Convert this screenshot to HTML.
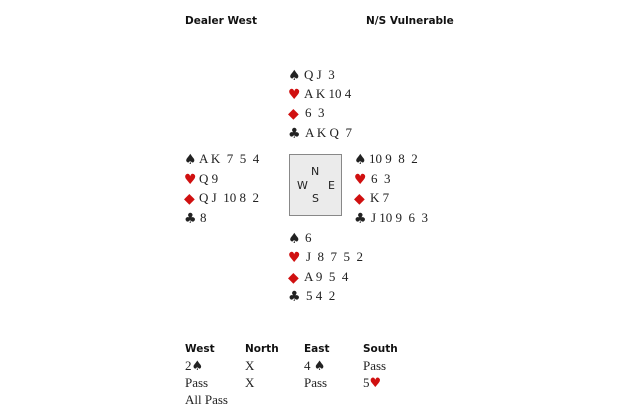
<!DOCTYPE html>
<html><head><meta charset="utf-8"><style>
body{margin:0;width:620px;height:413px;background:#fff;position:relative;overflow:hidden;font-family:"Liberation Serif",serif;color:#222}
.t{position:absolute;font-size:13px;line-height:16px;white-space:pre}
.s{position:absolute;font-family:"DejaVu Sans",sans-serif;font-size:14px;line-height:16px;margin-top:1px}
.r{color:#d01010}
.h{position:absolute;font-family:"DejaVu Sans","Liberation Sans",sans-serif;font-weight:bold;font-size:10.5px;line-height:14px;color:#111}
.box{position:absolute;left:289px;top:154px;width:51px;height:60px;border:1px solid #888;background:#ebebeb}
.d{position:absolute;font-family:"DejaVu Sans","Liberation Sans",sans-serif;font-size:11px;line-height:12px;color:#222}
.bs{font-family:"DejaVu Sans",sans-serif;font-size:13px}
</style></head><body>
<div class="h" style="left:185px;top:14px">Dealer West</div>
<div class="h" style="left:366px;top:14px">N/S Vulnerable</div>

<div class="s" style="left:288px;top:67px">♠</div><div class="t" style="left:304px;top:67px">Q J  3</div>
<div class="s r" style="left:288px;top:86px">♥</div><div class="t" style="left:304px;top:86px">A K 10 4</div>
<div class="s r" style="left:288px;top:105px">◆</div><div class="t" style="left:305px;top:105px">6  3</div>
<div class="s" style="left:288px;top:125px">♣</div><div class="t" style="left:305px;top:125px">A K Q  7</div>

<div class="s" style="left:184px;top:151px">♠</div><div class="t" style="left:199px;top:151px">A K  7  5  4</div>
<div class="s r" style="left:184px;top:171px">♥</div><div class="t" style="left:199px;top:171px">Q 9</div>
<div class="s r" style="left:184px;top:190px">◆</div><div class="t" style="left:199px;top:190px">Q J  10 8  2</div>
<div class="s" style="left:184px;top:210px">♣</div><div class="t" style="left:200px;top:210px">8</div>

<div class="s" style="left:354px;top:151px">♠</div><div class="t" style="left:369px;top:151px">10 9  8  2</div>
<div class="s r" style="left:354px;top:171px">♥</div><div class="t" style="left:371px;top:171px">6  3</div>
<div class="s r" style="left:354px;top:190px">◆</div><div class="t" style="left:370px;top:190px">K 7</div>
<div class="s" style="left:354px;top:210px">♣</div><div class="t" style="left:371px;top:210px">J 10 9  6  3</div>

<div class="box"></div>
<div class="d" style="left:311px;top:166px">N</div>
<div class="d" style="left:297px;top:180px">W</div>
<div class="d" style="left:328px;top:180px">E</div>
<div class="d" style="left:312px;top:193px">S</div>

<div class="s" style="left:288px;top:230px">♠</div><div class="t" style="left:305px;top:230px">6</div>
<div class="s r" style="left:288px;top:249px">♥</div><div class="t" style="left:306px;top:249px">J  8  7  5  2</div>
<div class="s r" style="left:288px;top:269px">◆</div><div class="t" style="left:304px;top:269px">A 9  5  4</div>
<div class="s" style="left:288px;top:288px">♣</div><div class="t" style="left:306px;top:288px">5 4  2</div>

<div class="h" style="left:185px;top:342px">West</div>
<div class="h" style="left:245px;top:342px">North</div>
<div class="h" style="left:304px;top:342px">East</div>
<div class="h" style="left:363px;top:342px">South</div>
<div class="t" style="left:185px;top:358px">2<span class="bs">♠</span></div>
<div class="t" style="left:245px;top:358px">X</div>
<div class="t" style="left:304px;top:358px">4 <span class="bs">♠</span></div>
<div class="t" style="left:363px;top:358px">Pass</div>
<div class="t" style="left:185px;top:375px">Pass</div>
<div class="t" style="left:245px;top:375px">X</div>
<div class="t" style="left:304px;top:375px">Pass</div>
<div class="t" style="left:363px;top:375px">5<span class="r bs">♥</span></div>
<div class="t" style="left:185px;top:392px">All Pass</div>
</body></html>
